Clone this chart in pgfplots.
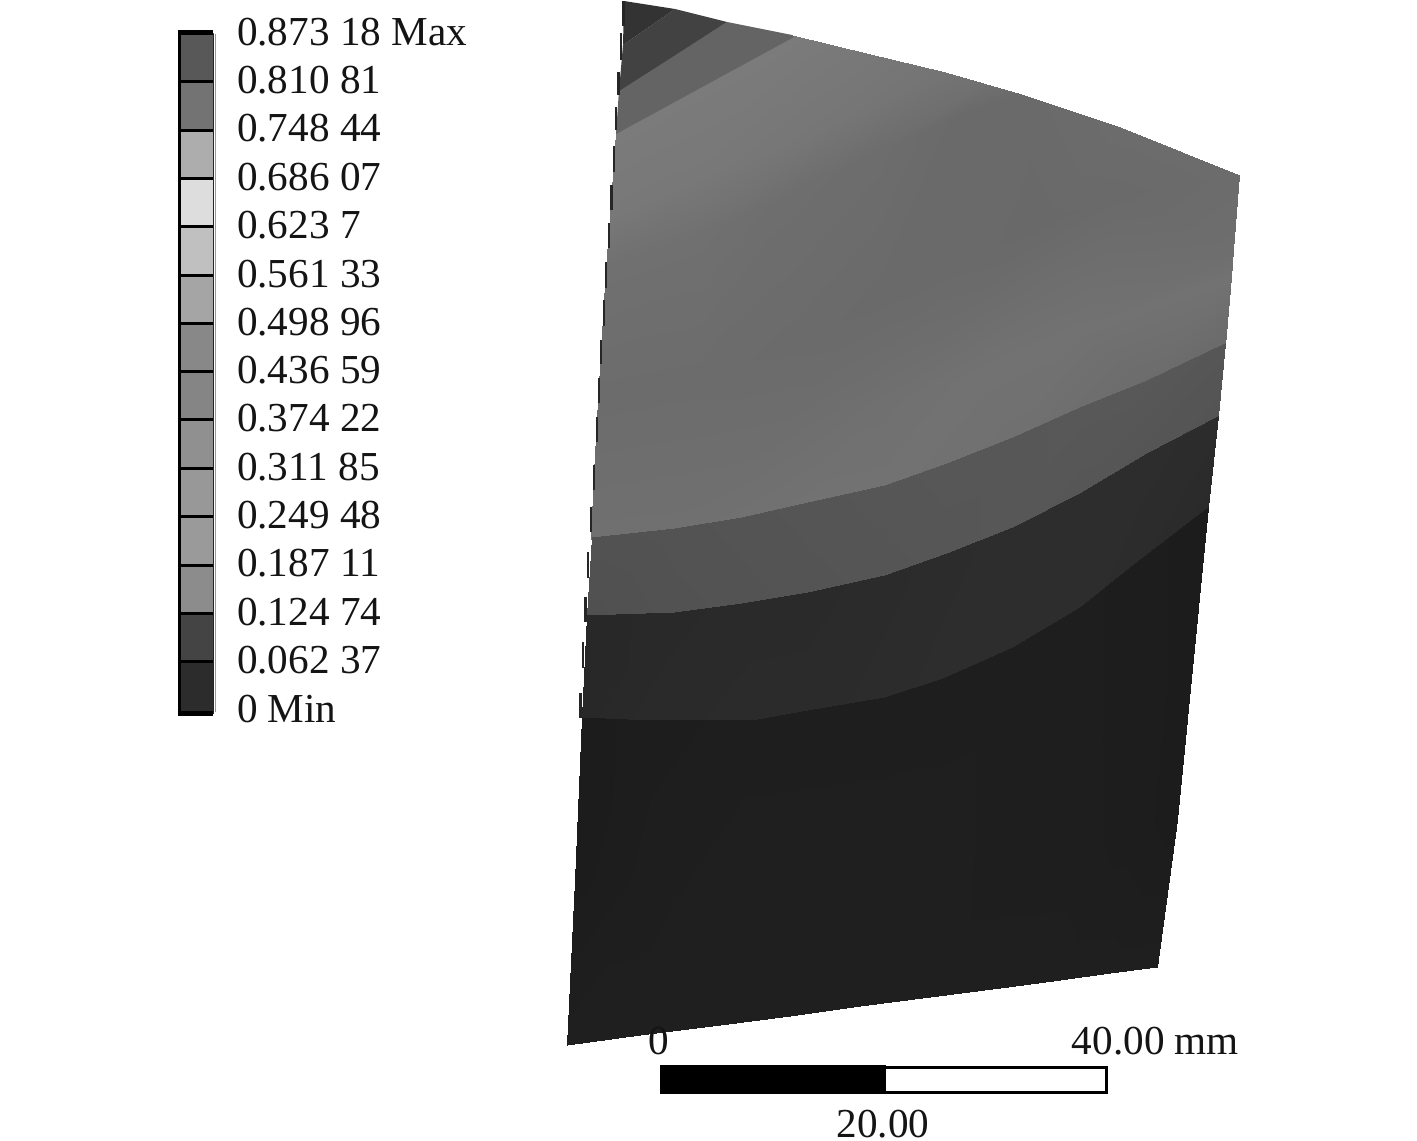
\documentclass[border=0pt]{standalone}
\usepackage{pgfplots}
\usepackage{fontspec}
\setmainfont{Liberation Serif}
\pgfplotsset{compat=1.18}
\pgfplotstableread{
x y c
616 132 123
700 86 123
792 35 123
870 54 120
945 72 116
1021 94 106
1120 127 108
1239 175 108
610 217 120
700 178 120
820 130 118
945 72 116
985 84 112
1021 94 106
1120 127 108
1239 175 108
606 268 112
700 236 112
790 195 110
880 150 109
960 115 106
1021 94 106
1120 127 108
1239 175 108
598 400 108
700 380 108
800 340 107
880 300 106
960 265 106
1040 225 105
1120 195 106
1233 250 110
594 472 110
675 458 110
775 437 110
830 422 111
880 405 112
980 373 114
1080 330 114
1231 277 114
591 539 112
675 530 112
742 519 113
808 504 114
885 487 114
1013 439 112
1147 382 108
1225 345 106
}\fieldupper
\pgfplotstableread{
x y c
592 537 82
675 528 83
742 517 84
808 502 85
885 485 86
947 463 87
1013 437 87
1080 407 88
1147 380 88
1225 343 86
587 615 80
675 612 82
742 603 83
808 592 84
885 575 85
947 553 86
1013 527 87
1080 493 86
1147 453 85
1218 416 84
587 615 40
675 612 41
742 603 42
808 592 42
885 575 43
947 553 44
1013 527 45
1080 493 45
1147 453 45
1218 416 44
582 717 40
650 720 42
758 719 43
808 710 43
885 697 44
943 678 45
1013 647 45
1080 607 45
1130 567 44
1208 507 42
582 717 28
650 720 29
758 719 30
808 710 30
885 697 30
943 678 30
1013 647 30
1080 607 30
1130 567 29
1208 507 28
575 880 28
650 880 30
730 875 31
800 868 31
870 860 31
940 852 31
1010 845 30
1075 838 30
1130 830 29
1177 820 28
567 1045 31
640 1035 31
720 1025 31
790 1016 31
860 1006 31
930 997 31
1000 988 31
1060 980 31
1110 973 31
1157 967 31
}\fieldlower
\definecolor{c0}{HTML}{585858}
\definecolor{c1}{HTML}{737373}
\definecolor{c2}{HTML}{ADADAD}
\definecolor{c3}{HTML}{DDDDDD}
\definecolor{c4}{HTML}{C0C0C0}
\definecolor{c5}{HTML}{A5A5A5}
\definecolor{c6}{HTML}{888888}
\definecolor{c7}{HTML}{858585}
\definecolor{c8}{HTML}{909090}
\definecolor{c9}{HTML}{989898}
\definecolor{c10}{HTML}{9A9A9A}
\definecolor{c11}{HTML}{8C8C8C}
\definecolor{c12}{HTML}{444444}
\definecolor{c13}{HTML}{2C2C2C}
\definecolor{p1}{HTML}{333333}
\definecolor{p2}{HTML}{424242}
\definecolor{p3}{HTML}{646464}
\tikzset{lab/.style={font=\fontsize{20.6}{24}\selectfont,inner sep=0pt,outer sep=0pt,text=black!92}}
\begin{document}
\begin{tikzpicture}
\begin{axis}[
  width=708.5pt,height=570pt,scale only axis,
  xmin=0,xmax=1417,ymin=0,ymax=1140,y dir=reverse,
  axis lines=none,clip=false,
  colormap={g}{gray(0)=(0);gray(1)=(1)},
  point meta min=0,point meta max=255,
]
\path[use as bounding box] (axis cs:0,0) rectangle (axis cs:1417,1140);
% contour field
\addplot[surf,shader=interp,mesh/cols=8,mesh/ordering=x varies,point meta=explicit] table[x=x,y=y,meta=c] {\fieldupper};
\addplot[surf,shader=interp,mesh/cols=10,mesh/ordering=x varies,point meta=explicit] table[x=x,y=y,meta=c] {\fieldlower};
\addplot[fill=p3,draw=none] coordinates {(619,90)(727,22)(792,35)(794,37)(616,134)} --cycle;
\addplot[fill=p2,draw=none] coordinates {(623,45)(675,9)(727,22)(619,91)} --cycle;
\addplot[fill=p1,draw=none] coordinates {(624,1)(675,9)(623,45)} --cycle;
% dark staircase along the left edge
\addplot[black!85,line width=1.1pt,unbounded coords=jump] table {
623.5 1
623.5 26
nan nan
621 33
621 60
nan nan
618.5 72
618.5 95
nan nan
616 107
616 130
nan nan
614 146
614 172
nan nan
611.5 185
611.5 210
nan nan
609 223
609 248
nan nan
606 262
606 288
nan nan
604 300
604 326
nan nan
601 340
601 364
nan nan
599 378
599 403
nan nan
597 417
597 442
nan nan
594 465
594 490
nan nan
591 507
591 532
nan nan
588 552
588 578
nan nan
585.5 597
585.5 622
nan nan
583 642
583 668
nan nan
580.5 693
580.5 718
};
% colour bar
\addplot[fill=c0,draw=none] coordinates {(179,33)(214,33)(214,81.5)(179,81.5)} --cycle;
\addplot[fill=c1,draw=none] coordinates {(179,81.5)(214,81.5)(214,130)(179,130)} --cycle;
\addplot[fill=c2,draw=none] coordinates {(179,130)(214,130)(214,178)(179,178)} --cycle;
\addplot[fill=c3,draw=none] coordinates {(179,178)(214,178)(214,226.5)(179,226.5)} --cycle;
\addplot[fill=c4,draw=none] coordinates {(179,226.5)(214,226.5)(214,275)(179,275)} --cycle;
\addplot[fill=c5,draw=none] coordinates {(179,275)(214,275)(214,323)(179,323)} --cycle;
\addplot[fill=c6,draw=none] coordinates {(179,323)(214,323)(214,371)(179,371)} --cycle;
\addplot[fill=c7,draw=none] coordinates {(179,371)(214,371)(214,419.6)(179,419.6)} --cycle;
\addplot[fill=c8,draw=none] coordinates {(179,419.6)(214,419.6)(214,468)(179,468)} --cycle;
\addplot[fill=c9,draw=none] coordinates {(179,468)(214,468)(214,516)(179,516)} --cycle;
\addplot[fill=c10,draw=none] coordinates {(179,516)(214,516)(214,565)(179,565)} --cycle;
\addplot[fill=c11,draw=none] coordinates {(179,565)(214,565)(214,613)(179,613)} --cycle;
\addplot[fill=c12,draw=none] coordinates {(179,613)(214,613)(214,661)(179,661)} --cycle;
\addplot[fill=c13,draw=none] coordinates {(179,661)(214,661)(214,714)(179,714)} --cycle;
\addplot[black,line width=1.5pt,unbounded coords=jump] table {
179 81.5
214 81.5
nan nan
179 130
214 130
nan nan
179 178
214 178
nan nan
179 226.5
214 226.5
nan nan
179 275
214 275
nan nan
179 323
214 323
nan nan
179 371
214 371
nan nan
179 419.6
214 419.6
nan nan
179 468
214 468
nan nan
179 516
214 516
nan nan
179 565
214 565
nan nan
179 613
214 613
nan nan
179 661
214 661
};
\addplot[black,line width=1.4pt] coordinates {(179.5,30)(179.5,716)};
\addplot[black!85,line width=0.8pt] coordinates {(213.5,34)(213.5,712)};
\addplot[black!40,line width=0.8pt] coordinates {(215.5,34)(215.5,712)};
\addplot[black,line width=2.5pt] coordinates {(178,32.5)(213,32.5)};
\addplot[black,line width=2.5pt] coordinates {(178,713.5)(213,713.5)};
% labels
\node[lab,anchor=base west] at (axis cs:237,45.5) {0.873 18 Max};
\node[lab,anchor=base west] at (axis cs:237,93.5) {0.810 81};
\node[lab,anchor=base west] at (axis cs:237,141.5) {0.748 44};
\node[lab,anchor=base west] at (axis cs:237,190) {0.686 07};
\node[lab,anchor=base west] at (axis cs:237,238.5) {0.623 7};
\node[lab,anchor=base west] at (axis cs:237,287) {0.561 33};
\node[lab,anchor=base west] at (axis cs:237,335) {0.498 96};
\node[lab,anchor=base west] at (axis cs:237,383) {0.436 59};
\node[lab,anchor=base west] at (axis cs:237,431.5) {0.374 22};
\node[lab,anchor=base west] at (axis cs:237,480) {0.311 85};
\node[lab,anchor=base west] at (axis cs:237,528) {0.249 48};
\node[lab,anchor=base west] at (axis cs:237,576.5) {0.187 11};
\node[lab,anchor=base west] at (axis cs:237,625) {0.124 74};
\node[lab,anchor=base west] at (axis cs:237,673) {0.062 37};
\node[lab,anchor=base west] at (axis cs:237,722) {0 Min};
% scale bar
\addplot[fill=white,draw=black,line width=1.5pt] coordinates {(661,1067)(1106,1067)(1106,1092)(661,1092)} --cycle;
\addplot[fill=black,draw=none] coordinates {(660,1065)(886,1065)(886,1093)(660,1093)} --cycle;
\node[lab,anchor=base] at (axis cs:659,1054) {0};
\node[lab,anchor=base east] at (axis cs:1239,1054) {40.00 mm};
\node[lab,anchor=base] at (axis cs:883,1137) {20.00};
\end{axis}
\end{tikzpicture}
\end{document}
